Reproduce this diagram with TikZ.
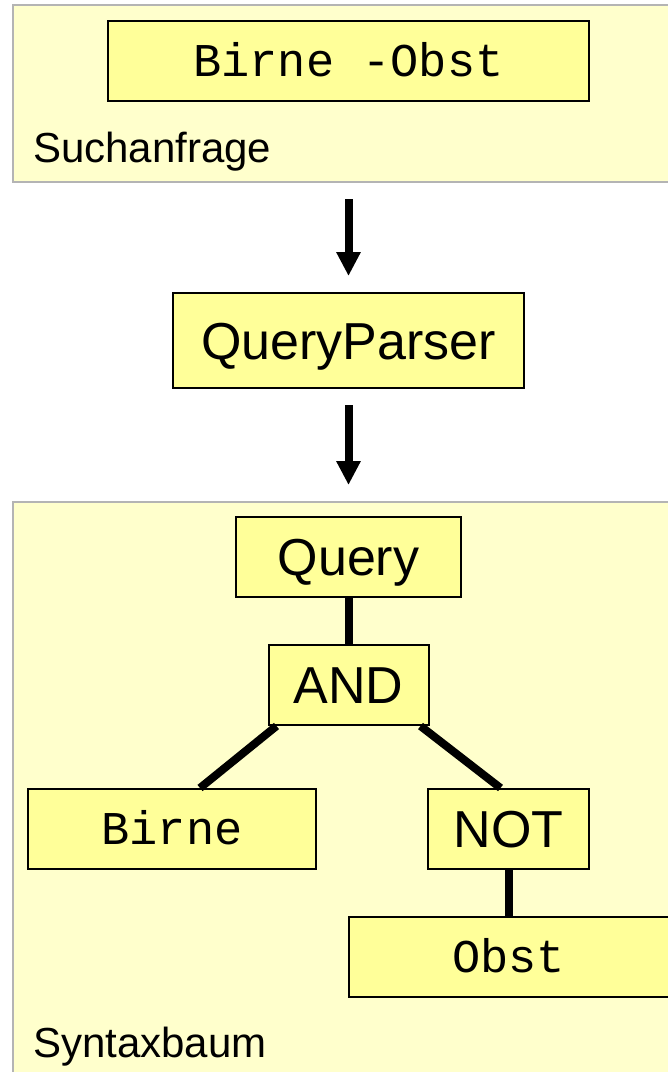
\documentclass[tikz,border=0pt]{standalone}
\usepackage{fontspec}
\setmainfont{Liberation Sans}
\newfontfamily\courier{Liberation Mono}
\usetikzlibrary{arrows.meta,calc,positioning}

\definecolor{panelgelb}{HTML}{FFFFCC}
\definecolor{boxgelb}{HTML}{FFFF99}
\definecolor{rahmengrau}{HTML}{B4B4B4}

\begin{document}
\begin{tikzpicture}[x=1pt,y=-1pt,
  panel/.style={draw=rahmengrau,line width=2pt,fill=panelgelb,anchor=north west,inner sep=0pt},
  kasten/.style={draw=black,line width=2pt,fill=boxgelb,inner sep=0pt,text depth=0pt,text height=37pt,font=\fontsize{52pt}{60pt}\selectfont},
  code/.style={kasten,text height=31pt,font=\courier\fontsize{47pt}{54pt}\selectfont},
  titel/.style={anchor=base west,inner sep=0pt,font=\fontsize{42pt}{50pt}\selectfont},
  pfeil/.style={line width=8pt,-{Triangle[width=23pt,length=24pt]},shorten <=16pt,shorten >=16pt},
  ast/.style={line width=8pt}]
\useasboundingbox (0,0) rectangle (668,1072);

% Suchanfrage
\node[panel,minimum width=680pt,minimum height=177pt] (suche) at (12,4) {};
\node[code,minimum width=481pt,minimum height=80pt] (anfrage) at (348.5,61) {Birne -Obst};
\node[titel] (suchlabel) at (33,162) {Suchanfrage};

% Parser
\node[kasten,minimum width=351pt,minimum height=95pt] (parser) at (348.5,340.5) {QueryParser};

% Syntaxbaum
\node[panel,minimum width=680pt,minimum height=600pt] (baum) at (12,501) {};
\node[kasten,minimum width=225pt,minimum height=80pt] (query) at (348.5,557) {Query};
\node[kasten,minimum width=160pt,minimum height=80pt] (und) at (348.5,685) {AND};
\node[code,minimum width=288pt,minimum height=80pt] (birne) at (172,829) {Birne};
\node[kasten,minimum width=161pt,minimum height=80pt] (nicht) at (508.5,829) {NOT};
\node[code,minimum width=320pt,minimum height=80pt] (obst) at (508.5,957) {Obst};
\node[titel] (baumlabel) at (33,1057) {Syntaxbaum};

\draw[pfeil] (suche.south -| parser.north) -- (parser.north);
\draw[pfeil] (parser.south) -- (parser.south |- baum.north);

\draw[ast] (query) -- (und);
\draw[ast] ($(und.south)+(-72,0)$) -- ($(birne.north)+(28,0)$);
\draw[ast] ($(und.south)+(72,0)$) -- ($(nicht.north)+(-8,0)$);
\draw[ast] (nicht) -- (obst);
\end{tikzpicture}
\end{document}
